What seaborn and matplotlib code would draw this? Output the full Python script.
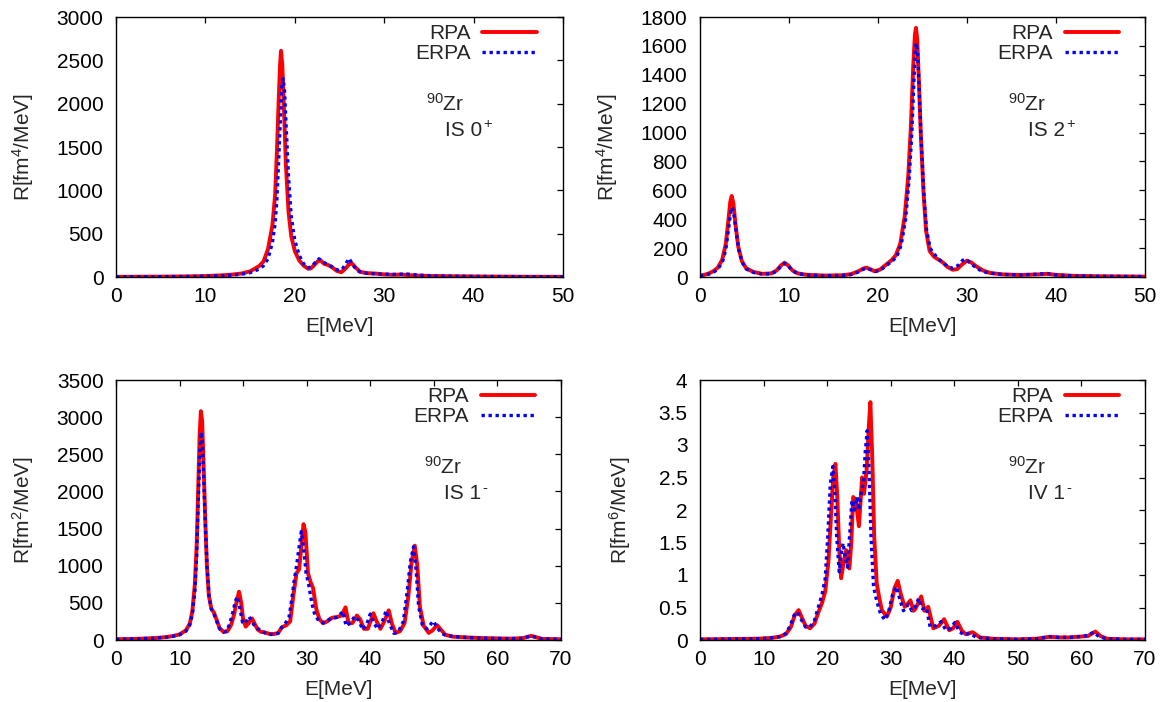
import numpy as np
import pandas as pd
import matplotlib
matplotlib.use("Agg")
import matplotlib.pyplot as plt
import matplotlib.transforms as mtransforms
import seaborn as sns

# ---------------- 90Zr response functions ----------------
# IS 0+  (R in fm^4/MeV)
e_is0_rpa = [0, 2, 4, 6, 8, 10, 12, 13, 14, 15, 16, 16.5, 17, 17.5, 17.8, 18.0, 18.2, 18.35,
             18.46, 18.6, 18.8, 19.0, 19.3, 19.6, 20, 20.5, 21, 21.5, 21.8, 22.2, 22.6, 22.9,
             23.3, 23.7, 24.2, 24.7, 25.2, 25.7, 26.1, 26.4, 26.8, 27.3, 28, 29, 30, 31, 32,
             33, 35, 38, 42, 46, 50]
r_is0_rpa = [2, 3, 4, 5, 7, 11, 20, 28, 40, 65, 125, 180, 320, 600, 950, 1450, 2050, 2450,
             2610, 2450, 1900, 1300, 750, 470, 300, 190, 130, 95, 100, 140, 185, 190,
             150, 140, 110, 70, 55, 100, 150, 155, 110, 60, 45, 40, 30, 25, 28,
             20, 12, 8, 5, 3, 2]
e_is0_erpa = [0, 4, 8, 10, 12, 13, 14, 15, 16, 16.5, 17, 17.5, 17.8, 18.0, 18.2, 18.4, 18.55,
              18.7, 18.85, 19.05, 19.3, 19.6, 20, 20.5, 21, 21.5, 21.9, 22.3, 22.7, 23.0,
              23.4, 23.8, 24.3, 24.8, 25.3, 25.7, 26.05, 26.4, 26.9, 27.5, 28.5, 29.5, 31,
              32.5, 34, 36, 40, 45, 50]
r_is0_erpa = [2, 3, 6, 9, 16, 22, 32, 50, 90, 130, 210, 400, 620, 900, 1350, 1850, 2200,
              2290, 2150, 1700, 1150, 700, 420, 250, 150, 105, 120, 170, 210, 190,
              160, 140, 110, 80, 90, 150, 215, 160, 80, 50, 40, 35, 30,
              35, 20, 12, 7, 4, 2]

# IS 2+  (R in fm^4/MeV)
e_is2_rpa = [0, 0.5, 1, 1.5, 2, 2.5, 2.9, 3.2, 3.4, 3.56, 3.75, 4.0, 4.3, 4.7, 5.2, 6, 7, 8,
             8.6, 9.1, 9.5, 9.9, 10.4, 11, 12, 14, 16, 17, 17.8, 18.4, 18.7, 19.1, 19.6, 20.2,
             20.8, 21.5, 22.0, 22.5, 23.0, 23.4, 23.7, 23.95, 24.15, 24.27, 24.4, 24.6, 24.8,
             25.1, 25.4, 25.8, 26.3, 26.8, 27.3, 27.8, 28.4, 28.9, 29.5, 30.0, 30.5, 31, 31.8,
             32.6, 34, 36, 38, 39, 40, 42, 45, 50]
r_is2_rpa = [10, 15, 25, 40, 65, 120, 230, 400, 520, 561, 510, 360, 210, 110, 60, 35, 22, 25,
             45, 80, 99, 80, 45, 25, 15, 10, 12, 20, 40, 60, 65, 55, 40, 50,
             80, 115, 150, 230, 420, 700, 1050, 1450, 1680, 1725, 1650, 1350, 1000,
             600, 320, 180, 140, 120, 100, 70, 50, 55, 90, 113, 100, 75, 45,
             28, 18, 14, 18, 22, 15, 8, 5, 3]
e_is2_erpa = [0, 0.5, 1, 1.5, 2, 2.5, 2.9, 3.2, 3.45, 3.6, 3.8, 4.05, 4.35, 4.75, 5.2, 6, 7, 8,
              8.6, 9.1, 9.5, 9.9, 10.4, 11, 12, 14, 16, 17, 17.8, 18.4, 18.8, 19.2, 19.7, 20.3,
              20.9, 21.6, 22.1, 22.6, 23.1, 23.5, 23.8, 24.05, 24.2, 24.3, 24.45, 24.65, 24.85,
              25.15, 25.45, 25.85, 26.3, 26.8, 27.3, 27.8, 28.4, 29.0, 29.5, 29.8, 30.3, 30.9,
              31.6, 32.4, 34, 36, 38, 39, 40, 42, 45, 50]
r_is2_erpa = [8, 12, 20, 32, 55, 100, 190, 330, 450, 483, 440, 320, 190, 100, 55, 32, 20, 22,
              40, 75, 95, 78, 42, 23, 14, 9, 11, 18, 35, 55, 60, 50, 38, 48,
              78, 110, 140, 220, 400, 680, 1000, 1380, 1580, 1620, 1560, 1280, 950,
              580, 330, 200, 160, 125, 100, 75, 60, 80, 115, 125, 100, 70,
              42, 28, 18, 14, 20, 24, 14, 8, 5, 3]

# IS 1-  (R in fm^2/MeV)
e_is1_rpa = [0, 3, 6, 8, 9, 10, 11, 11.6, 12.0, 12.4, 12.7, 12.95, 13.15, 13.35, 13.55, 13.8,
             14.05, 14.3, 14.6, 15.0, 15.4, 15.8, 16.3, 16.9, 17.5, 18.1, 18.6, 19.0, 19.35,
             19.7, 20.0, 20.4, 20.9, 21.4, 21.8, 22.3, 22.8, 23.3, 24.0, 24.8, 25.5, 26.1, 26.8,
             27.4, 27.9, 28.4, 28.8, 29.2, 29.5, 29.8, 30.2, 30.6, 31.0, 31.5, 32.0, 32.6, 33.2,
             34.0, 34.8, 35.5, 36.1, 36.6, 37.2, 37.9, 38.4, 39.0, 39.6, 40.5, 41.0, 41.6, 42.2,
             42.9, 43.4, 44.0, 44.7, 45.4, 46.0, 46.5, 47.0, 47.4, 47.8, 48.4, 49.2, 49.8, 50.5,
             51.0, 51.8, 53, 55, 58, 62, 64, 65.3, 66, 67, 70]
r_is1_rpa = [10, 15, 25, 40, 55, 75, 130, 220, 380, 750, 1300, 2100, 2750, 3080, 2950, 2300,
             1600, 1000, 600, 420, 370, 280, 160, 110, 115, 200, 350, 530, 650,
             500, 280, 180, 230, 290, 220, 140, 110, 105, 85, 80, 95, 170, 200,
             250, 600, 900, 950, 1300, 1560, 1450, 900, 780, 700, 420, 280, 225, 250,
             300, 310, 330, 440, 220, 230, 330, 280, 150, 150, 360, 250, 150, 250,
             400, 220, 95, 120, 230, 600, 1050, 1270, 1000, 450, 190, 95, 130, 200,
             150, 70, 45, 35, 25, 18, 25, 55, 40, 15, 10]
e_is1_erpa = [0, 3, 6, 8, 9, 10, 11, 11.6, 12.0, 12.4, 12.7, 12.95, 13.2, 13.4, 13.6, 13.85,
              14.1, 14.35, 14.65, 15.0, 15.4, 15.8, 16.3, 16.9, 17.4, 17.9, 18.4, 18.8, 19.15,
              19.5, 19.9, 20.3, 20.9, 21.3, 21.8, 22.3, 22.8, 23.3, 24.0, 24.8, 25.5, 26.0, 26.6,
              27.2, 27.6, 28.0, 28.4, 28.8, 29.15, 29.5, 29.9, 30.3, 30.8, 31.3, 31.9, 32.5, 33.2,
              34.0, 34.6, 35.2, 35.7, 36.2, 36.8, 37.6, 38.2, 38.8, 39.4, 40.0, 40.5, 41.2, 41.9,
              42.5, 43.0, 43.7, 44.4, 45.2, 45.8, 46.3, 46.8, 47.2, 47.6, 48.2, 48.9, 49.4, 49.9,
              50.5, 51.2, 52, 54, 56, 58, 62, 64, 65.3, 66, 67, 70]
r_is1_erpa = [10, 15, 25, 38, 50, 70, 120, 200, 340, 650, 1150, 1900, 2550, 2800, 2650, 2050,
              1450, 950, 580, 420, 350, 260, 150, 105, 120, 220, 380, 530, 583,
              420, 240, 220, 315, 260, 190, 150, 140, 100, 75, 75, 90, 165, 220,
              300, 520, 780, 1000, 1250, 1460, 1250, 900, 750, 500, 330, 260, 230, 260,
              300, 300, 340, 385, 190, 230, 320, 260, 140, 200, 350, 230, 150, 250,
              395, 220, 90, 110, 250, 650, 1050, 1255, 950, 450, 200, 150, 200, 255,
              170, 90, 60, 40, 30, 25, 18, 25, 55, 40, 15, 10]

# IV 1-  (R in fm^6/MeV)
e_iv1_rpa = [0, 5, 9, 11, 12.5, 13.5, 14.3, 14.9, 15.5, 16.0, 16.6, 17.3, 18.0, 18.6, 19.2,
             19.7, 20.2, 20.6, 20.95, 21.3, 21.6, 21.9, 22.2, 22.6, 23.0, 23.5, 23.8, 24.1,
             24.5, 25.0, 25.5, 25.8, 26.2, 26.5, 26.8, 27.1, 27.4, 27.8, 28.2, 28.6, 29.4,
             30.0, 30.6, 31.1, 31.6, 32.2, 32.6, 33.1, 33.6, 33.9, 34.8, 35.3, 35.9, 36.7,
             37.6, 38.4, 39.2, 39.8, 40.5, 41.2, 41.8, 42.9, 44, 46, 50, 53, 55, 56.5, 58,
             59.5, 61, 62.2, 63.0, 64, 67, 70]
r_iv1_rpa = [0.01, 0.015, 0.02, 0.03, 0.05, 0.09, 0.2, 0.38, 0.46, 0.35, 0.22, 0.18, 0.25, 0.42, 0.57,
             0.75, 1.2, 1.9, 2.5, 2.71, 2.2, 1.4, 0.95, 1.2, 1.38, 1.1, 1.5, 2.2,
             2.15, 1.75, 2.5, 2.25, 2.6, 3.2, 3.66, 2.8, 1.6, 0.87, 0.65, 0.46, 0.36,
             0.5, 0.8, 0.91, 0.7, 0.51, 0.55, 0.61, 0.45, 0.48, 0.67, 0.45, 0.51, 0.18,
             0.22, 0.32, 0.15, 0.18, 0.28, 0.14, 0.09, 0.12, 0.04, 0.02, 0.01, 0.02, 0.05, 0.04, 0.04,
             0.05, 0.06, 0.13, 0.06, 0.02, 0.01, 0.01]
e_iv1_erpa = [0, 5, 9, 11, 12.5, 13.5, 14.2, 14.8, 15.3, 15.9, 16.6, 17.3, 18.0, 18.6, 19.2,
              19.7, 20.1, 20.5, 20.9, 21.2, 21.5, 21.9, 22.2, 22.5, 22.9, 23.2, 23.6, 23.9,
              24.3, 24.7, 25.0, 25.4, 25.7, 26.0, 26.3, 26.6, 26.9, 27.3, 27.8, 28.4, 29.1,
              29.7, 30.3, 30.9, 31.5, 32.0, 32.8, 33.3, 33.8, 34.4, 35.0, 35.6, 36.2, 37.1,
              37.9, 38.7, 39.4, 40.1, 40.8, 41.5, 42.4, 43.5, 46, 50, 53, 55, 56.5, 58,
              59.5, 61, 61.9, 62.8, 64, 67, 70]
r_iv1_erpa = [0.01, 0.015, 0.02, 0.03, 0.05, 0.1, 0.22, 0.38, 0.43, 0.32, 0.2, 0.2, 0.3, 0.5, 0.7,
              0.95, 1.6, 2.4, 2.67, 2.3, 1.6, 1.05, 1.3, 1.49, 1.25, 1.12, 1.7, 2.15,
              2.0, 2.2, 2.0, 2.3, 2.4, 2.9, 3.22, 2.6, 1.6, 0.82, 0.6, 0.4, 0.31,
              0.45, 0.7, 0.82, 0.6, 0.45, 0.55, 0.45, 0.5, 0.64, 0.48, 0.5, 0.2, 0.22,
              0.28, 0.15, 0.18, 0.27, 0.13, 0.08, 0.1, 0.04, 0.02, 0.01, 0.02, 0.05, 0.04, 0.04,
              0.05, 0.07, 0.12, 0.05, 0.02, 0.01, 0.01]

# axis ranges, ticks and labels of each panel
panels = [
    dict(rpa=(e_is0_rpa, r_is0_rpa), erpa=(e_is0_erpa, r_is0_erpa), xmax=50, ymax=3000,
         yticks=[0, 500, 1000, 1500, 2000, 2500, 3000], ylabel=r"R[fm$^{4}$/MeV]",
         mode="IS 0", sup="+"),
    dict(rpa=(e_is2_rpa, r_is2_rpa), erpa=(e_is2_erpa, r_is2_erpa), xmax=50, ymax=1800,
         yticks=[0, 200, 400, 600, 800, 1000, 1200, 1400, 1600, 1800], ylabel=r"R[fm$^{4}$/MeV]",
         mode="IS 2", sup="+"),
    dict(rpa=(e_is1_rpa, r_is1_rpa), erpa=(e_is1_erpa, r_is1_erpa), xmax=70, ymax=3500,
         yticks=[0, 500, 1000, 1500, 2000, 2500, 3000, 3500], ylabel=r"R[fm$^{2}$/MeV]",
         mode="IS 1", sup="-"),
    dict(rpa=(e_iv1_rpa, r_iv1_rpa), erpa=(e_iv1_erpa, r_iv1_erpa), xmax=70, ymax=4,
         yticks=[0, 0.5, 1, 1.5, 2, 2.5, 3, 3.5, 4], ylabel=r"R[fm$^{6}$/MeV]",
         mode="IV 1", sup="-"),
]

sns.set_theme(style="white")
plt.rcParams["font.family"] = ["Liberation Sans", "DejaVu Sans"]
plt.rcParams["mathtext.fontset"] = "custom"
plt.rcParams["mathtext.rm"] = "Liberation Sans"
plt.rcParams["mathtext.sf"] = "Liberation Sans"
plt.rcParams["mathtext.default"] = "regular"

DPI = 100
fig = plt.figure(figsize=(11.68, 7.02), dpi=DPI)
W, H = 1168, 702
boxes = [(116, 17, 563, 277), (700, 17, 1145, 277), (116, 380, 561, 640), (700, 380, 1145, 640)]
ylab_x = [-0.18, -0.18, -0.18, -0.15]

FS = 15
mode_texts = []
for p, (x0, y0, x1, y1), ylx in zip(panels, boxes, ylab_x):
    ax = fig.add_axes([x0 / W, 1 - y1 / H, (x1 - x0) / W, (y1 - y0) / H])
    df_r = pd.DataFrame({"E": p["rpa"][0], "R": p["rpa"][1]})
    df_e = pd.DataFrame({"E": p["erpa"][0], "R": p["erpa"][1]})
    sns.lineplot(data=df_r, x="E", y="R", ax=ax, color="#ff0000", lw=2.8,
                 label="RPA", solid_joinstyle="round")
    sns.lineplot(data=df_e, x="E", y="R", ax=ax, color="#0000ff", lw=2.4,
                 linestyle=(0, (1, 1.1)), label="ERPA")
    ax.set_xlim(0, p["xmax"])
    ax.set_ylim(0, p["ymax"])
    ax.set_xticks(np.arange(0, p["xmax"] + 1, 10))
    ax.set_yticks(p["yticks"])
    ax.set_yticklabels([f"{v:g}" for v in p["yticks"]])
    ax.tick_params(direction="in", length=4.5, width=0.9, top=True, right=True,
                   labelsize=FS, colors="black")
    ax.tick_params(axis="x", pad=7)
    ax.tick_params(axis="y", pad=9)
    for s in ax.spines.values():
        s.set_color("black")
        s.set_linewidth(1.0)
    ax.set_xlabel("E[MeV]", fontsize=FS)
    ax.set_ylabel(p["ylabel"], fontsize=FS)
    ax.xaxis.set_label_coords(0.5, -0.155)
    ax.yaxis.set_label_coords(ylx, 0.5)
    ax.legend(loc="upper right", frameon=False, markerfirst=False, fontsize=FS,
              handlelength=2.6, handletextpad=0.58, labelspacing=0.06,
              borderaxespad=0.0, borderpad=0.3, bbox_to_anchor=(0.955, 0.997))
    ax.text(0.693, 0.665, r"$^{90}$Zr", transform=ax.transAxes, fontsize=FS,
            va="center", ha="left")
    t = ax.text(0.736, 0.541, p["mode"], transform=ax.transAxes, fontsize=FS,
                va="baseline", ha="left")
    mode_texts.append((ax, t, p["sup"]))

# raised +/- sign right after each multipolarity label
fig.canvas.draw()
renderer = fig.canvas.get_renderer()
raise_px = {"+": 8.5, "-": 7.5}
for ax, t, sup in mode_texts:
    bb = t.get_window_extent(renderer)
    bx, by = ax.transAxes.transform(t.get_position())
    shift = mtransforms.ScaledTranslation(1.5 / DPI, raise_px[sup] / DPI, fig.dpi_scale_trans)
    ax.text(bb.x1, by, sup, transform=mtransforms.IdentityTransform() + shift,
            fontsize=FS * 0.7, va="baseline", ha="left")

fig.savefig("out.png", dpi=DPI, facecolor="white")
